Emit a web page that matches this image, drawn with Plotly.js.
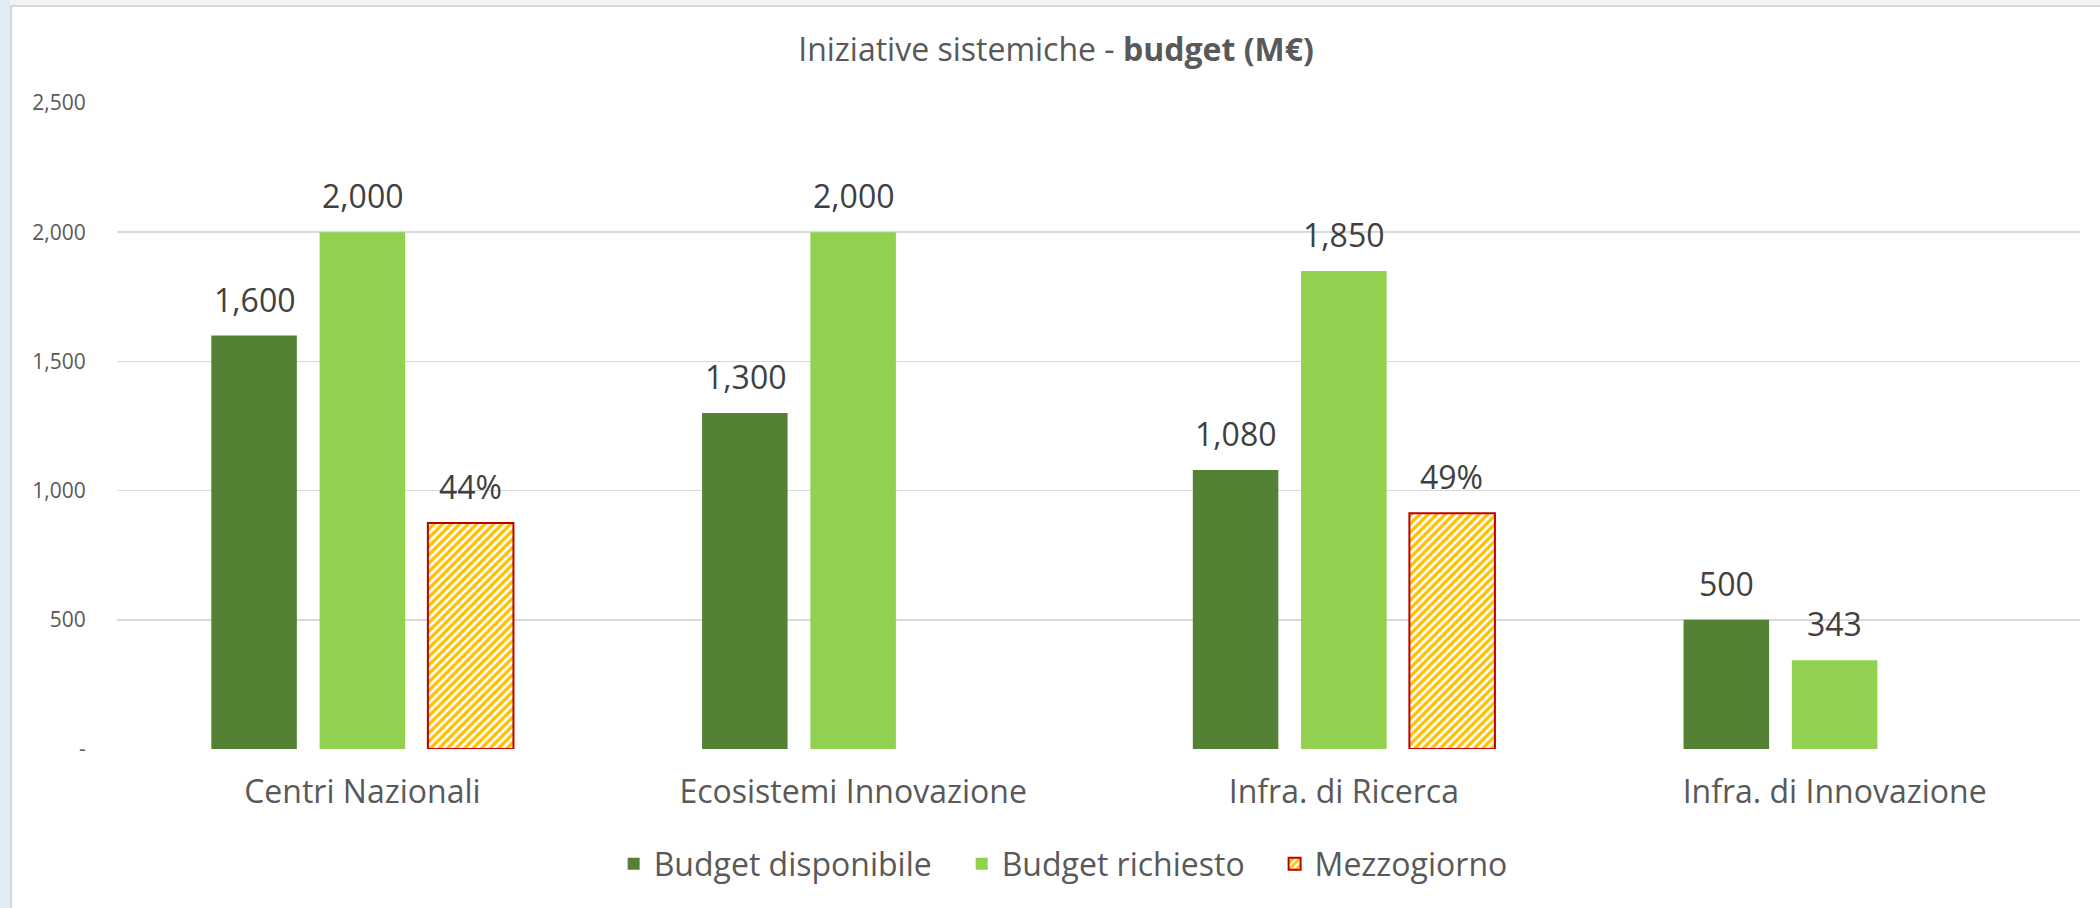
<!DOCTYPE html>
<html>
<head>
<meta charset="utf-8">
<script src="https://cdn.plot.ly/plotly-3.0.1.min.js"></script>
<style>
  html, body { margin: 0; padding: 0; width: 2100px; height: 908px; overflow: hidden; background: #deecf8; }
  #topstrip { position: absolute; left: 10px; top: 0; width: 2090px; height: 5px; background: #f1f4f7; }
  #chart { position: absolute; left: 10px; top: 5px; width: 2090px; height: 903px; background: #ffffff;
           border-left: 2px solid #d6d6d6; border-top: 2px solid #d6d6d6; box-sizing: border-box; }
</style>
</head>
<body>
<div id="topstrip"></div>
<div id="chart"></div>
<script>
const categories = ["Centri Nazionali", "Ecosistemi Innovazione", "Infra. di Ricerca", "Infra. di Innovazione"];
const seriesNames = ["Budget disponibile", "Budget richiesto", "Mezzogiorno"];
const budgetDisponibile = [1600, 1300, 1080, 500];
const budgetRichiesto = [2000, 2000, 1850, 343];
const mezzogiorno = [875, null, 912, null];
const mezzogiornoLabels = ["44%", null, "49%", null];
const yTickVals = [0, 500, 1000, 1500, 2000, 2500];
const yTickText = ["-", "500", "1,000", "1,500", "2,000", "2,500"];

const FONT = "Open Sans, sans-serif";
const fmt = v => v.toLocaleString("en-US");
const PAD = "\u00a0\u00a0\u00a0";

const traces = [
  {
    type: "bar", name: seriesNames[0] + PAD, x: categories, y: budgetDisponibile,
    marker: { color: "#548235" }, hoverinfo: "skip"
  },
  {
    type: "bar", name: seriesNames[1] + PAD, x: categories, y: budgetRichiesto,
    marker: { color: "#92d050" }, hoverinfo: "skip"
  },
  {
    type: "bar", name: seriesNames[2], x: categories, y: mezzogiorno,
    marker: {
      color: "#ffffff",
      line: { color: "#c00000", width: 2 },
      pattern: { shape: "/", fgcolor: "#ffc000", bgcolor: "#ffffff", size: 6, solidity: 0.55 }
    },
    hoverinfo: "skip"
  }
];

// value labels above bars (slot offsets for the 3-bar groups)
const slotShift = [-108, 0, 108];
const series = [
  { vals: budgetDisponibile, labels: budgetDisponibile.map(v => v == null ? null : fmt(v)) },
  { vals: budgetRichiesto, labels: budgetRichiesto.map(v => v == null ? null : fmt(v)) },
  { vals: mezzogiorno, labels: mezzogiornoLabels }
];
const annotations = [];
series.forEach((s, si) => {
  s.vals.forEach((v, ci) => {
    if (v == null) return;
    annotations.push({
      x: categories[ci], y: v, xref: "x", yref: "y",
      xshift: slotShift[si], yshift: 13,
      yanchor: "bottom", xanchor: "center", showarrow: false,
      text: s.labels[ci],
      font: { family: FONT, size: 32, color: "#404040" }
    });
  });
});

const layout = {
  width: 2088, height: 901,
  autosize: false,
  paper_bgcolor: "#ffffff", plot_bgcolor: "#ffffff",
  margin: { l: 105, r: 20, t: 96, b: 159, autoexpand: false },
  title: {
    text: "Iniziative sistemiche - <b>budget (M€)</b>",
    font: { family: FONT, size: 32, color: "#595959" },
    xref: "container", x: 0.5, xanchor: "center",
    yref: "container", y: 0.953, yanchor: "middle"
  },
  barmode: "group", bargap: 0.338, bargroupgap: 0.21,
  showlegend: true,
  legend: {
    orientation: "h", x: 0.482, xanchor: "center",
    y: -0.178, yanchor: "middle",
    font: { family: FONT, size: 32, color: "#595959" },
    traceorder: "normal"
  },
  xaxis: {
    type: "category",
    tickfont: { family: FONT, size: 32, color: "#595959" },
    tickangle: 0,
    ticks: "outside", ticklen: 15, tickcolor: "rgba(0,0,0,0)",
    showgrid: false, showline: false, zeroline: false
  },
  yaxis: {
    range: [0, 2500], tickmode: "array", tickvals: yTickVals, ticktext: yTickText,
    tickfont: { family: FONT, size: 21, color: "#595959" },
    ticks: "outside", ticklen: 26, tickcolor: "rgba(0,0,0,0)",
    showgrid: true, gridcolor: "#d9d9d9", gridwidth: 1.5,
    zeroline: false, showline: false, fixedrange: true
  },
  annotations: annotations,
  font: { family: FONT, color: "#595959" }
};

Plotly.newPlot("chart", traces, layout, { displayModeBar: false, staticPlot: true });
</script>
</body>
</html>
